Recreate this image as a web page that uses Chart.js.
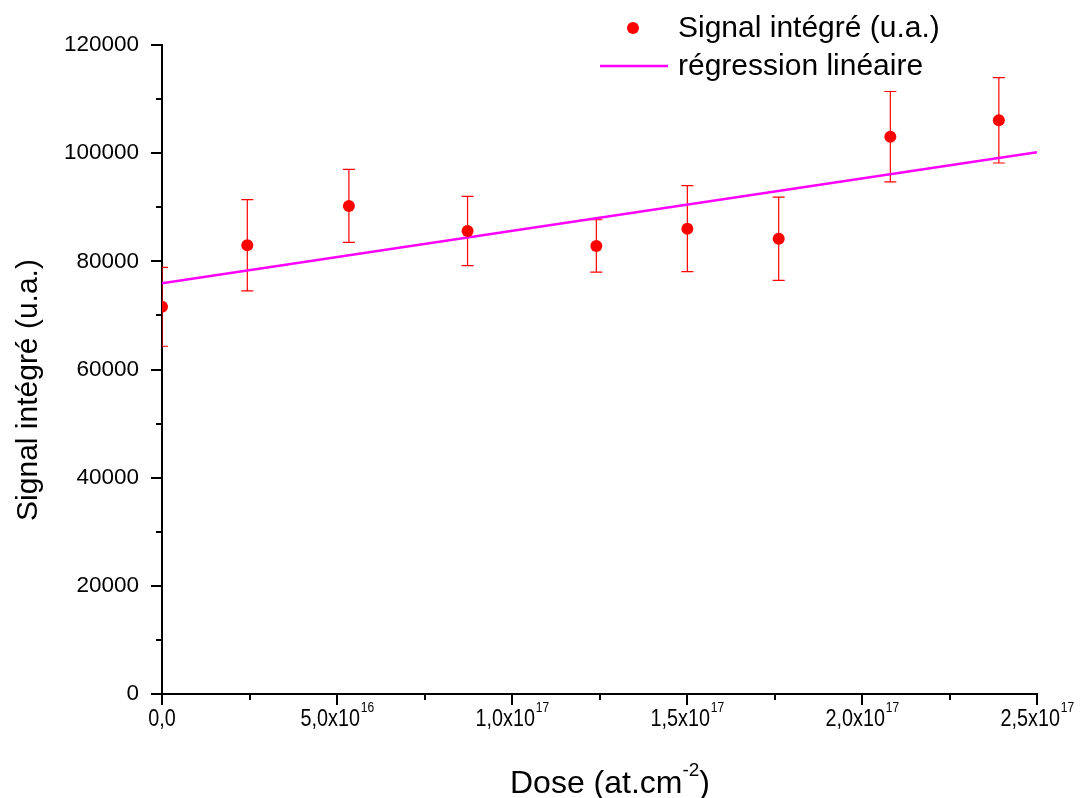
<!DOCTYPE html>
<html><head><meta charset="utf-8">
<script src="https://cdn.jsdelivr.net/npm/chart.js@4/dist/chart.umd.min.js"></script>
<style>html,body{margin:0;padding:0;background:#fff}</style>
</head><body>
<canvas id="c" width="1085" height="798" style="display:block;width:1085px;height:798px"></canvas>
<script>
// ---- data ----
const doseX   = [0, 2.437e16, 5.34e16, 8.73e16, 1.241e17, 1.501e17, 1.762e17, 2.081e17, 2.391e17];
const signal  = [71600, 82970, 90240, 85600, 82840, 86040, 84190, 103050, 106080];
const errBar  = [7300, 8450, 6750, 6400, 4850, 7950, 7700, 8350, 7900];
const regX    = [0, 2.5e17];
const regY    = [75940, 100160];
const xTickValues = [0, 5e16, 1e17, 1.5e17, 2e17, 2.5e17];
const xTickBase   = ['0,0', '5,0x10', '1,0x10', '1,5x10', '2,0x10', '2,5x10'];
const xTickExp    = ['', '16', '17', '17', '17', '17'];
const legendLabels = ['Signal intégré (u.a.)', 'régression linéaire'];
const xTitleBase = 'Dose (at.cm', xTitleExp = '-2', xTitleEnd = ')';
const yTitle = 'Signal intégré (u.a.)';

const FONT = "'Liberation Sans', Arial, Helvetica, sans-serif";
const RED = '#ff0000', MAG = '#ff00ff';

const deco = {
  id: 'deco',
  beforeDatasetsDraw(chart) {
    const {ctx, chartArea: a, scales: {x, y}} = chart;
    ctx.save();
    ctx.beginPath(); ctx.rect(a.left, a.top, a.right - a.left, a.bottom - a.top); ctx.clip();
    ctx.strokeStyle = RED; ctx.lineWidth = 1.2;
    doseX.forEach((d, i) => {
      const px = x.getPixelForValue(d);
      const pt = y.getPixelForValue(signal[i] + errBar[i]);
      const pb = y.getPixelForValue(signal[i] - errBar[i]);
      ctx.beginPath();
      ctx.moveTo(px, pt); ctx.lineTo(px, pb);
      ctx.moveTo(px - 6, pt); ctx.lineTo(px + 6, pt);
      ctx.moveTo(px - 6, pb); ctx.lineTo(px + 6, pb);
      ctx.stroke();
    });
    ctx.restore();
  },
  afterDraw(chart) {
    const {ctx, chartArea: a, scales: {x, y}} = chart;
    ctx.save();
    ctx.strokeStyle = '#000'; ctx.lineWidth = 2;
    // y ticks (major every 20000, minor every 10000)
    for (let v = y.min; v <= y.max; v += 10000) {
      const py = Math.round(y.getPixelForValue(v));
      const len = (v % 20000 === 0) ? 11 : 6;
      ctx.beginPath(); ctx.moveTo(a.left - len, py); ctx.lineTo(a.left, py); ctx.stroke();
    }
    // x ticks (major every 5e16, minor halfway)
    for (let k = 0; k <= 10; k++) {
      const px = Math.round(x.getPixelForValue(x.min + k * (x.max - x.min) / 10));
      const len = (k % 2 === 0) ? 11 : 6;
      ctx.beginPath(); ctx.moveTo(px, a.bottom); ctx.lineTo(px, a.bottom + len); ctx.stroke();
    }
    // x tick labels (condensed) with superscript exponent
    ctx.fillStyle = '#000';
    ctx.textBaseline = 'middle';
    ctx.textAlign = 'left';
    const sx = 0.86;
    const baseFont = '23px ' + FONT, expFont = '14px ' + FONT;
    xTickValues.forEach((v, i) => {
      ctx.font = baseFont; const wb = ctx.measureText(xTickBase[i]).width * sx;
      ctx.font = expFont; const we = xTickExp[i] ? ctx.measureText(xTickExp[i]).width * sx : 0;
      const cx = x.getPixelForValue(v);
      const x0 = cx - (wb + we) / 2;
      ctx.save(); ctx.translate(x0, 0); ctx.scale(sx, 1);
      ctx.font = baseFont; ctx.fillText(xTickBase[i], 0, 720);
      if (xTickExp[i]) { ctx.font = expFont; ctx.fillText(xTickExp[i], wb / sx + 1, 708); }
      ctx.restore();
    });
    // x axis title with superscript
    {
      const f1 = '32px ' + FONT, f2 = '19px ' + FONT;
      ctx.font = f1; const w1 = ctx.measureText(xTitleBase).width, w3 = ctx.measureText(xTitleEnd).width;
      ctx.font = f2; const w2 = ctx.measureText(xTitleExp).width;
      const x0 = 610 - (w1 + w2 + w3) / 2;
      ctx.font = f1; ctx.fillText(xTitleBase, x0, 784);
      ctx.font = f2; ctx.fillText(xTitleExp, x0 + w1, 771);
      ctx.font = f1; ctx.fillText(xTitleEnd, x0 + w1 + w2, 784);
    }
    // y axis title
    ctx.save();
    ctx.translate(29, 390); ctx.rotate(-Math.PI / 2);
    ctx.textAlign = 'center'; ctx.font = '30px ' + FONT;
    ctx.fillText(yTitle, 0, 0);
    ctx.restore();
    // legend
    ctx.fillStyle = RED;
    ctx.beginPath(); ctx.arc(633, 28, 6, 0, Math.PI * 2); ctx.fill();
    ctx.strokeStyle = MAG; ctx.lineWidth = 2.5;
    ctx.beginPath(); ctx.moveTo(600, 66); ctx.lineTo(668, 66); ctx.stroke();
    ctx.fillStyle = '#000'; ctx.font = '30px ' + FONT; ctx.textAlign = 'left';
    ctx.fillText(legendLabels[0], 678, 29);
    ctx.fillText(legendLabels[1], 678, 67);
    ctx.restore();
  }
};

new Chart(document.getElementById('c'), {
  type: 'scatter',
  data: {
    datasets: [
      {
        label: legendLabels[0],
        data: doseX.map((d, i) => ({x: d, y: signal[i]})),
        backgroundColor: RED, borderColor: RED,
        pointRadius: 6, pointHoverRadius: 6, pointBorderWidth: 0,
        showLine: false, clip: 0
      },
      {
        label: legendLabels[1],
        type: 'line',
        data: regX.map((d, i) => ({x: d, y: regY[i]})),
        borderColor: MAG, backgroundColor: MAG,
        borderWidth: 2.5, pointRadius: 0, fill: false, tension: 0
      }
    ]
  },
  options: {
    responsive: false, animation: false, devicePixelRatio: 1,
    layout: {padding: {top: 45, right: 48, left: 0, bottom: 0}},
    plugins: {legend: {display: false}, tooltip: {enabled: false}},
    scales: {
      x: {
        type: 'linear', min: 0, max: 2.5e17,
        grid: {display: false},
        border: {display: true, color: '#000', width: 2},
        ticks: {display: false, stepSize: 5e16},
        afterFit(s) { s.height = 104; }
      },
      y: {
        type: 'linear', min: 0, max: 120000,
        grid: {display: false},
        border: {display: true, color: '#000', width: 2},
        ticks: {stepSize: 20000, color: '#000', padding: 15,
                font: {family: FONT, size: 22.5},
                callback: v => String(v)},
        afterFit(s) { s.width = 162; }
      }
    }
  },
  plugins: [deco]
});
</script>
</body></html>
